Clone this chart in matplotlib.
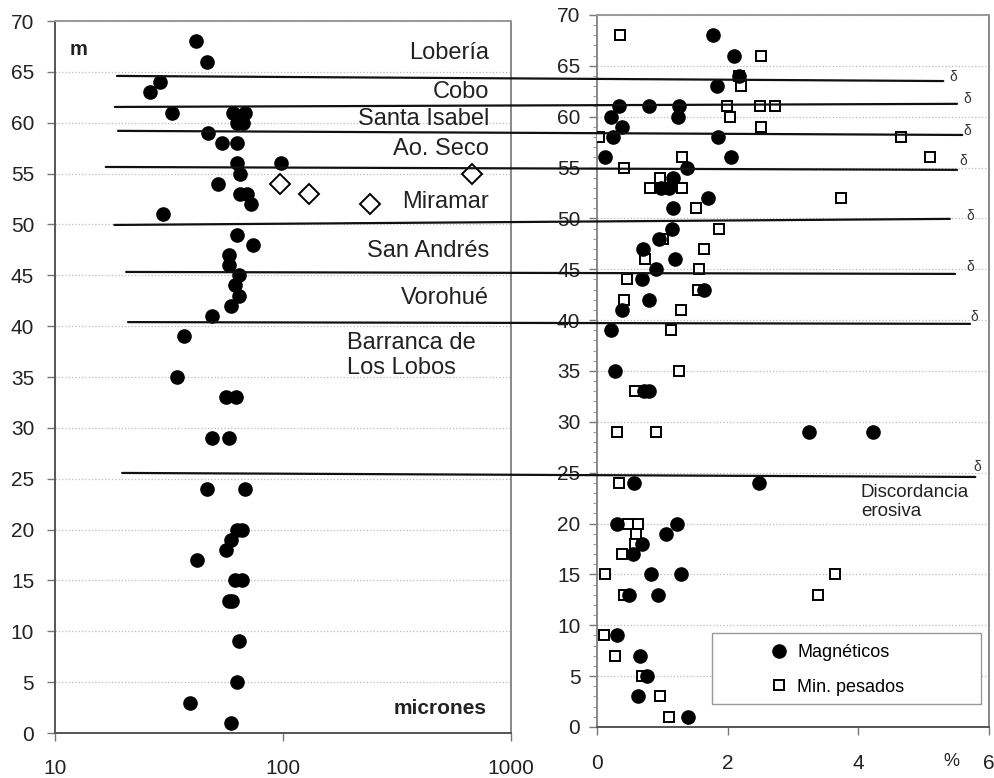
import matplotlib.pyplot as plt
import matplotlib.transforms as mtransforms
from matplotlib.patches import ConnectionPatch, Rectangle
from matplotlib.ticker import FixedLocator, FixedFormatter, NullLocator, MultipleLocator

plt.rcParams['font.family'] = ['Liberation Sans', 'DejaVu Sans']

# Left panel: grain size (microns) against height (m)
size_depth = [68, 66, 64, 63, 61, 61, 61, 60, 60, 59, 58, 58, 56, 56, 55, 54, 53, 53, 52, 51,
              49, 48, 47, 46, 45, 44, 43, 42, 41, 39, 35, 33, 33, 29, 29, 24, 24, 20, 20, 19,
              18, 17, 15, 15, 13, 13, 9, 5, 3, 1]
size_um = [41.4, 46.4, 28.9, 26.1, 32.7, 60.4, 68.1, 62.8, 66.9, 47, 53.8, 62.8, 62.8, 98, 65,
           51.9, 64.9, 69.7, 72.1, 29.8, 62.8, 73.8, 58.2, 58.2, 64.1, 61.5, 64.1, 59.3, 49,
           36.8, 34.2, 56, 62.2, 49, 58.2, 46.4, 68.1, 63, 66.3, 59.3, 56, 42.1, 61.6, 66.3,
           58.2, 59.9, 64.1, 62.8, 39, 59.3]

# Miramar open diamonds
mir_depth = [55, 54, 53, 52]
mir_um = [675, 97, 130, 241]

# Right panel: percentages
mag_depth = [68, 66, 64, 63, 61, 61, 61, 60, 60, 59, 58, 58, 56, 56, 55, 54, 53, 53, 52, 51,
             49, 48, 47, 46, 45, 44, 43, 42, 41, 39, 35, 33, 33, 29, 29, 24, 24, 20, 20, 19,
             18, 17, 15, 15, 13, 13, 9, 7, 5, 3, 1]
mag_pct = [1.77, 2.10, 2.18, 1.83, 0.33, 0.79, 1.26, 0.22, 1.24, 0.38, 0.25, 1.85, 0.13, 2.05,
           1.37, 1.17, 0.98, 1.10, 1.70, 1.17, 1.15, 0.95, 0.71, 1.20, 0.90, 0.69, 1.63, 0.79,
           0.38, 0.22, 0.28, 0.72, 0.80, 3.24, 4.22, 0.57, 2.48, 0.30, 1.22, 1.05, 0.69, 0.55,
           0.82, 1.28, 0.49, 0.93, 0.30, 0.66, 0.76, 0.63, 1.40]

hvy_depth = [68, 66, 64, 63, 61, 61, 61, 60, 59, 58, 58, 56, 56, 55, 54, 53, 53, 52, 51, 49,
             48, 47, 46, 45, 44, 43, 42, 41, 39, 35, 33, 29, 29, 24, 20, 20, 19, 18, 17, 15,
             15, 13, 13, 9, 7, 5, 3, 1]
hvy_pct = [0.35, 2.51, 2.18, 2.21, 1.99, 2.50, 2.72, 2.04, 2.51, 0.03, 4.66, 1.30, 5.10, 0.41,
           0.96, 0.81, 1.30, 3.73, 1.52, 1.87, 1.01, 1.63, 0.73, 1.56, 0.46, 1.55, 0.41, 1.28,
           1.14, 1.26, 0.58, 0.30, 0.90, 0.33, 0.48, 0.63, 0.59, 0.58, 0.38, 0.13, 3.65, 0.41,
           3.38, 0.11, 0.28, 0.69, 0.96, 1.10]

# Formation names (left panel)
form_names = ['Lobería', 'Cobo', 'Santa Isabel', 'Ao. Seco', 'Miramar', 'San Andrés', 'Vorohué']
form_y = [66.9, 63.0, 60.4, 57.4, 52.2, 47.4, 42.8]

# Boundaries: start in left panel (microns, m), end in right panel (%, m)
bound_x0 = [18.7, 18.3, 18.9, 16.7, 18.2, 20.5, 20.9, 19.7]
bound_y0 = [64.6, 61.55, 59.2, 55.65, 49.95, 45.33, 40.4, 25.57]
bound_x1 = [5.30, 5.51, 5.59, 5.51, 5.40, 5.48, 5.71, 5.79]
bound_y1 = [63.5, 61.26, 58.2, 54.77, 49.95, 44.54, 39.63, 24.58]
delta_x = [5.45, 5.66, 5.66, 5.61, 5.72, 5.71, 5.78, 5.82]
delta_y = [63.9, 61.7, 58.6, 55.6, 50.2, 45.2, 40.3, 25.6]

fig = plt.figure(figsize=(9.95, 7.78), dpi=100)
ax1 = fig.add_axes([0.0553, 0.0578, 0.4583, 0.9152])
ax2 = fig.add_axes([0.6, 0.0656, 0.394, 0.9152])

txt = '#222222'

# ---- left panel
ax1.set_xscale('log')
ax1.set_xlim(10, 1000)
ax1.set_ylim(0, 70)
ax1.xaxis.set_major_locator(FixedLocator([10, 100, 1000]))
ax1.xaxis.set_major_formatter(FixedFormatter(['10', '100', '1000']))
ax1.xaxis.set_minor_locator(NullLocator())
ax1.yaxis.set_major_locator(MultipleLocator(5))
ax1.grid(axis='y', color='#bbbbbb', linestyle=':', linewidth=0.9)
ax1.set_axisbelow(True)
ax1.tick_params(axis='both', direction='out', length=6, width=1, color='#777777',
                labelsize=15, labelcolor=txt)
ax1.tick_params(axis='y', pad=9)
ax1.tick_params(axis='x', pad=13)

ax1.plot(size_um, size_depth, 'o', color='black', ms=9.5, ls='none', zorder=3)
ax1.plot(mir_um, mir_depth, 'D', mfc='white', mec='black', mew=1.4, ms=10, ls='none', zorder=3)

ytr = mtransforms.blended_transform_factory(ax1.transAxes, ax1.transData)
for name, y in zip(form_names, form_y):
    ax1.text(0.952, y, name, transform=ytr, ha='right', va='center', fontsize=17, color=txt)
ax1.text(191, 37.1, 'Barranca de\nLos Lobos', ha='left', va='center', fontsize=17,
         color=txt, linespacing=1.15)
ax1.text(12.7, 67.2, 'm', ha='center', va='center', fontsize=14.5, fontweight='bold', color=txt)
ax1.text(0.947, 2.4, 'micrones', transform=ytr, ha='right', va='center', fontsize=15,
         fontweight='bold', color=txt)

# ---- right panel
ax2.set_xlim(0, 6)
ax2.set_ylim(0, 70)
ax2.xaxis.set_major_locator(FixedLocator([0, 2, 4, 6]))
ax2.yaxis.set_major_locator(MultipleLocator(5))
ax2.yaxis.set_minor_locator(MultipleLocator(1))
ax2.grid(axis='y', which='major', color='#bbbbbb', linestyle=':', linewidth=0.9)
ax2.set_axisbelow(True)
ax2.tick_params(axis='both', which='major', direction='out', length=6, width=1,
                color='#777777', labelsize=15, labelcolor=txt)
ax2.tick_params(axis='y', which='minor', direction='out', length=3, width=0.8, color='#999999')
ax2.tick_params(axis='y', pad=6)
ax2.tick_params(axis='x', pad=13.5)

hv, = ax2.plot(hvy_pct, hvy_depth, 's', mfc='white', mec='black', mew=1.4, ms=7.8,
               ls='none', zorder=3)
mg, = ax2.plot(mag_pct, mag_depth, 'o', color='black', ms=9.5, ls='none', zorder=4)

for dx, dy in zip(delta_x, delta_y):
    ax2.text(dx, dy, 'δ', ha='center', va='center', fontsize=10, color='#333333')

ax2.text(4.04, 22.1, 'Discordancia\nerosiva', ha='left', va='center', fontsize=13.5,
         color=txt, linespacing=1.15)

xtr = mtransforms.blended_transform_factory(ax2.transData, ax2.transAxes)
ax2.text(5.43, -0.049, '%', transform=xtr, ha='center', va='center', fontsize=13, color=txt)

ax2.add_patch(Rectangle((0.293, 0.032), 0.687, 0.1, transform=ax2.transAxes,
                        facecolor='white', edgecolor='#999999', lw=1, zorder=5))
ax2.legend([mg, hv], ['Magnéticos', 'Min. pesados'], loc='upper left',
           bbox_to_anchor=(0.44, 0.116), frameon=False, fontsize=13, handlelength=1.0,
           handletextpad=0.55, labelspacing=0.95, borderpad=0, borderaxespad=0).set_zorder(6)

for ax in (ax1, ax2):
    ax.spines['left'].set_color('#555555')
    ax.spines['bottom'].set_color('#555555')
    ax.spines['right'].set_color('#888888')
    ax.spines['top'].set_color('#999999')
    for s in ax.spines.values():
        s.set_linewidth(1.4)
ax2.spines['left'].set_color('#888888')

# formation boundaries running across both panels
for x0, y0, x1, y1 in zip(bound_x0, bound_y0, bound_x1, bound_y1):
    con = ConnectionPatch(xyA=(x0, y0), coordsA=ax1.transData,
                          xyB=(x1, y1), coordsB=ax2.transData,
                          color='#111111', lw=1.6, zorder=6)
    fig.add_artist(con)

fig.savefig('out.png', dpi=100)
